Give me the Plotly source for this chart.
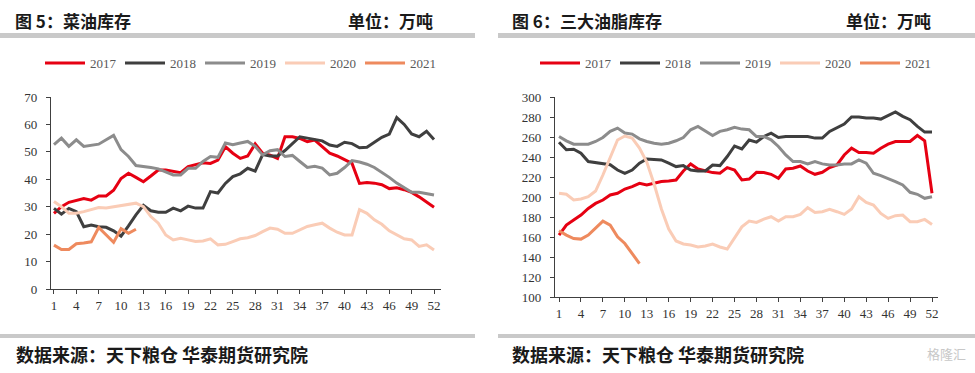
import plotly.graph_objects as go

W, H = 975, 373

weeks = list(range(1, 53))
years = ["2017", "2018", "2019", "2020", "2021"]
year_colors = ["#E60012", "#3F3F3F", "#8C8C8C", "#FACCB6", "#EE8A5E"]

# 图5 菜油库存 (万吨)
rape_2017 = [27.6, 30, 31.6, 32.4, 33, 32.4, 33.9, 33.9, 36, 40.3,
             42.2, 40.7, 39.1, 41.2, 43.4, 43.4, 42.8, 42.4, 44.6, 45.2,
             46, 45.8, 47, 51.9, 49.5, 47.6, 48.5, 52.9, 49.5, 48.8,
             47.6, 55.5, 55.5, 54.9, 53.7, 54.3, 52, 49.5, 48.5, 47.2,
             45.8, 38.5, 38.8, 38.6, 38, 36.6, 36.9, 36.2, 35.2, 33.6,
             31.7, 29.8]
rape_2018 = [29.4, 27.3, 29.4, 28.2, 22.7, 23.3, 22.7, 22.5, 21.2, 19.3,
             23, 27, 30.5, 28.5, 28, 28, 29.5, 28.5, 30.2, 29.5,
             29.5, 35.5, 35, 38.5, 41, 42, 44, 43, 49, 48.5,
             48.5, 50.5, 53, 55.5, 55, 54.5, 54, 52.5, 52, 53.5,
             53, 51.5, 51.7, 53.5, 55.3, 56.5, 62.5, 60, 56.5, 55.5,
             57.5, 54.5]
rape_2019 = [52.6, 55, 52, 54.4, 52, 52.3, 52.8, 54.4, 56, 50.8,
             48.3, 45, 44.7, 44.3, 43.8, 42.6, 41.6, 41.6, 44, 44,
             46.5, 48.3, 48, 53.2, 52.6, 53.2, 53.8, 52, 48.9, 50.4,
             50.8, 48.3, 48.7, 46.5, 44.3, 44.7, 44.1, 41.6, 42.2, 44.3,
             46.8, 46.3, 45.5, 44.3, 42.6, 40.7, 38.6, 36.8, 35.3, 35.3,
             34.9, 34.3]
rape_2020 = [31.9, 30, 27.6, 27.6, 28.2, 28.9, 29.7, 29.5, 30, 30.4,
             30.9, 31.3, 30, 26.4, 24, 19.7, 17.9, 18.5, 17.9, 17.3,
             17.5, 18.3, 16.1, 16.3, 17.3, 18.3, 18.7, 19.5, 20.9, 22.2,
             21.8, 20.3, 20.3, 21.5, 22.8, 23.4, 24, 22.2, 20.7, 19.7,
             19.7, 28.9, 27.6, 25.2, 23.6, 21.2, 19.7, 18.3, 17.9, 15.5,
             16.1, 14.2]
rape_2021 = [16, 14.4, 14.4, 16.5, 16.8, 17.2, 22.4, 19.5, 17, 22,
             20.3, 21.8]

# 图6 三大油脂库存 (万吨)
oil_2017 = [161.9, 171.9, 176.9, 181.9, 188.6, 193.6, 197, 202, 203.7, 208,
            210.4, 213.7, 212, 213.7, 215.4, 216, 217, 226, 233, 228,
            226, 224.4, 223.7, 229.4, 227, 217, 218, 224.7, 224.4, 222.7,
            218.7, 228, 228.8, 231, 226, 222.7, 224.7, 229.4, 232, 242,
            248.8, 244.5, 244.5, 243.8, 248.8, 252.8, 255.5, 255.5, 255.5, 261.5,
            256.2, 203.7]
oil_2018 = [254.8, 247.2, 247.8, 243.8, 235.5, 234.4, 233.8, 232.2, 227, 223.7,
            227, 233.8, 238, 237.8, 237, 233.8, 230.4, 231.4, 227, 226,
            226, 232, 231.4, 240.5, 251, 248, 257, 254.8, 260.5, 263.9,
            259.5, 260.5, 260.5, 259.9, 260.5, 258.9, 258.9, 265.6, 269.6, 272.9,
            280, 280, 278.9, 278.9, 277.9, 281.6, 285, 280.6, 277.3, 270.6,
            264.9, 264.9]
oil_2019 = [260.5, 256.2, 252.8, 252.8, 252.8, 255.5, 259.5, 265.6, 268.9, 263.9,
            262.9, 258.2, 255.5, 253.8, 252.8, 253.8, 256.2, 259.5, 267.2, 270.6,
            266.2, 261.5, 265.6, 267.2, 269.6, 267.9, 267.2, 260.5, 260.5, 257.2,
            250.5, 242.1, 235.5, 235.5, 233.1, 235.5, 233.1, 232.1, 232.1, 233.1,
            233.1, 237.1, 233.8, 223.7, 221.4, 218.7, 215.4, 212, 204.7, 202.7,
            198.7, 200.3]
oil_2020 = [203.7, 202.7, 197, 198, 200.3, 206, 222, 240, 257, 261,
            259, 249, 235, 213, 188, 168, 156, 153, 152, 150,
            151, 153, 150, 148, 158.5, 170.2, 175.9, 174.6, 177.9, 180.3,
            175.9, 180.3, 180.3, 182.6, 189.3, 184.6, 185.3, 187.6, 185.3, 182.6,
            188, 200.3, 194.6, 192, 183.6, 178.6, 181.3, 181.9, 175.3, 175.3,
            177.6, 172.6]
oil_2021 = [166.2, 161.9, 158.5, 157.9, 161.9, 168.6, 175.9, 171.9, 160.2, 153.5,
            143.5, 133.4]

x_ticks = list(range(1, 53, 3))

rape_series = [rape_2017, rape_2018, rape_2019, rape_2020, rape_2021]
oil_series = [oil_2017, oil_2018, oil_2019, oil_2020, oil_2021]

fig = go.Figure()
for name, col, vals in zip(years, year_colors, rape_series):
    fig.add_trace(go.Scatter(x=weeks[:len(vals)], y=vals, mode="lines", name=name,
                             line=dict(color=col, width=3), xaxis="x", yaxis="y",
                             legend="legend"))
for name, col, vals in zip(years, year_colors, oil_series):
    fig.add_trace(go.Scatter(x=weeks[:len(vals)], y=vals, mode="lines", name=name,
                             line=dict(color=col, width=3), xaxis="x2", yaxis="y2",
                             legend="legend2"))

def px(v):
    return v / W

def py(v):
    return 1 - v / H

tick_font = dict(family="Liberation Serif", size=13, color="#333333")
axis_common = dict(showgrid=False, zeroline=False, showline=True, linecolor="#404040",
                   linewidth=1.3, ticks="outside", ticklen=4, tickcolor="#404040",
                   tickfont=tick_font, automargin=False)

legend_common = dict(orientation="h", yanchor="middle", xanchor="left",
                     font=dict(family="Liberation Serif", size=13, color="#595959"),
                     entrywidth=25, entrywidthmode="pixels", itemwidth=40,
                     bgcolor="rgba(0,0,0,0)")

fig.update_layout(
    width=W, height=H,
    margin=dict(l=0, r=0, t=0, b=0, autoexpand=False),
    paper_bgcolor="white", plot_bgcolor="white",
    showlegend=True,
    xaxis=dict(domain=[px(51), px(441)], range=[0.6, 52.94], anchor="y",
               tickmode="array", tickvals=x_ticks, **axis_common),
    yaxis=dict(domain=[py(289), py(97)], range=[0, 70], anchor="x",
               tickmode="linear", tick0=0, dtick=10, ticklabelstandoff=6, **axis_common),
    xaxis2=dict(domain=[px(555), px(938)], range=[0.45, 52.82], anchor="y2",
                tickmode="array", tickvals=x_ticks, **axis_common),
    yaxis2=dict(domain=[py(297), py(97)], range=[100, 300], anchor="x2",
                tickmode="linear", tick0=100, dtick=20, ticklabelstandoff=6, **axis_common),
    legend=dict(x=px(40), y=py(63), **legend_common),
    legend2=dict(x=px(535), y=py(63), **legend_common),
)

title_font = dict(family="Noto Sans CJK SC", size=17, color="#1a1a1a")
src_font = dict(family="Noto Sans CJK SC", size=18, color="#1a1a1a")
ann = [
    dict(text="<b>图 5：菜油库存</b>", x=px(13), y=py(20), font=title_font),
    dict(text="<b>单位：万吨</b>", x=px(346), y=py(20), font=title_font),
    dict(text="<b>图 6：三大油脂库存</b>", x=px(510), y=py(20), font=title_font),
    dict(text="<b>单位：万吨</b>", x=px(844), y=py(20), font=title_font),
    dict(text="<b>数据来源：天下粮仓 华泰期货研究院</b>", x=px(14), y=py(354), font=src_font),
    dict(text="<b>数据来源：天下粮仓 华泰期货研究院</b>", x=px(510), y=py(354), font=src_font),
]
for a in ann:
    fig.add_annotation(xref="paper", yref="paper", xanchor="left", yanchor="middle",
                       showarrow=False, **a)
fig.add_annotation(xref="paper", yref="paper", x=px(968), y=py(353), xanchor="right",
                   yanchor="middle", showarrow=False, text="格隆汇",
                   font=dict(family="Noto Sans CJK SC", size=13, color="#c8c8c8"))

bars = [
    (0, 33, 475, 38), (498, 33, 975, 38),
    (0, 334, 475, 338), (498, 334, 975, 338),
]
for x0, y0, x1, y1 in bars:
    fig.add_shape(type="rect", xref="paper", yref="paper", x0=px(x0), x1=px(x1),
                  y0=py(y1), y1=py(y0), line=dict(width=0), fillcolor="#c9c9c9")

fig.write_html("out.html", config={"displayModeBar": False},
               post_script="document.body.style.margin='0';")
